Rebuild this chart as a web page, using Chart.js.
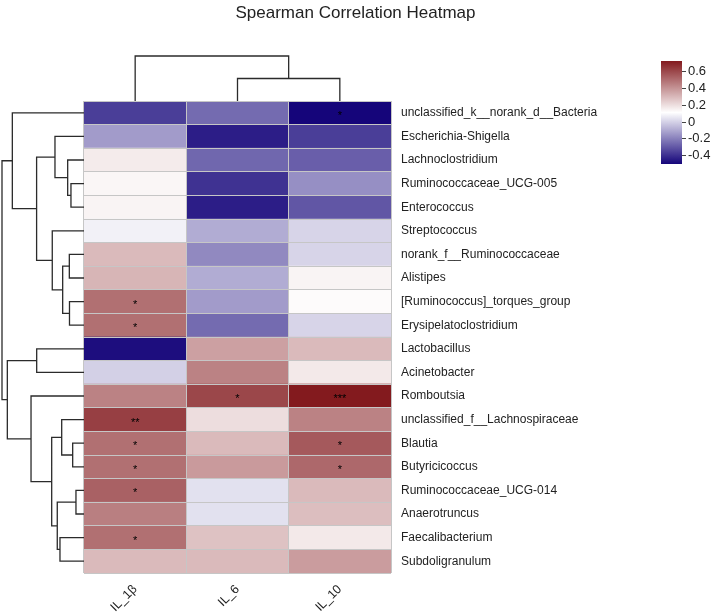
<!DOCTYPE html>
<html>
<head>
<meta charset="utf-8">
<script src="https://cdn.jsdelivr.net/npm/chart.js@4"></script>
<style>
  body { margin: 0; background: #fff; }
  #wrap { position: relative; width: 711px; height: 613px; background: #fff; }
  #wrap canvas { position: absolute; }
</style>
</head>
<body>
<div id="wrap">
  <canvas id="heat" width="711" height="613" style="left:0;top:0"></canvas>
  <canvas id="topTree" width="711" height="102" style="left:0;top:0"></canvas>
  <canvas id="leftTree" width="86" height="613" style="left:0;top:0"></canvas>
  <canvas id="legendBar" width="60" height="124" style="left:661px;top:50px"></canvas>
</div>
<script>
const rowLabels = ['unclassified_k__norank_d__Bacteria', 'Escherichia-Shigella', 'Lachnoclostridium',
  'Ruminococcaceae_UCG-005', 'Enterococcus', 'Streptococcus', 'norank_f__Ruminococcaceae', 'Alistipes',
  '[Ruminococcus]_torques_group', 'Erysipelatoclostridium', 'Lactobacillus', 'Acinetobacter', 'Romboutsia',
  'unclassified_f__Lachnospiraceae', 'Blautia', 'Butyricicoccus', 'Ruminococcaceae_UCG-014', 'Anaerotruncus',
  'Faecalibacterium', 'Subdoligranulum'];
const colLabels = ['IL_1β', 'IL_6', 'IL_10'];

// spearman r, one array per cytokine (row order as above)
const il1b = [-0.36, -0.13, 0.17, 0.14, 0.145, 0.08, 0.30, 0.315, 0.50, 0.50, -0.48, 0.00, 0.45, 0.63, 0.50, 0.50, 0.54, 0.46, 0.50, 0.30];
const il6 = [-0.25, -0.44, -0.26, -0.39, -0.44, -0.09, -0.175, -0.09, -0.13, -0.25, 0.37, 0.45, 0.61, 0.205, 0.30, 0.385, 0.04, 0.04, 0.28, 0.30];
const il10 = [-0.50, -0.36, -0.28, -0.16, -0.30, 0.01, 0.01, 0.145, 0.125, 0.01, 0.30, 0.175, 0.73, 0.45, 0.56, 0.52, 0.30, 0.29, 0.175, 0.38];

// significance marks
const sig1b = ['', '', '', '', '', '', '', '', '*', '*', '', '', '', '**', '*', '*', '*', '', '*', ''];
const sig6 = ['', '', '', '', '', '', '', '', '', '', '', '', '*', '', '', '', '', '', '', ''];
const sig10 = ['*', '', '', '', '', '', '', '', '', '', '', '', '***', '', '*', '*', '', '', '', ''];

// hclust style merges: negative = leaf (1-based), positive = earlier merge; third = height
const rowMerge = [
  [-17, -18, 0.098], [-15, -16, 0.138], [-4, -5, 0.159], [-9, -10, 0.177], [-7, -8, 0.179],
  [-3, 3, 0.199], [5, 4, 0.260], [-14, 2, 0.272], [-19, -20, 0.293], [1, 9, 0.326],
  [-2, 6, 0.354], [-6, 7, 0.387], [8, 10, 0.394], [-11, -12, 0.577], [11, 12, 0.578],
  [-13, 13, 0.646], [-1, 15, 0.874], [14, 16, 0.935], [17, 18, 1.0]
];
const colMerge = [[-2, -3, 0.50], [-1, 1, 1.0]];

const barTicks = [0.6, 0.4, 0.2, 0, -0.2, -0.4];

Chart.defaults.font.family = "'Liberation Sans', Arial, sans-serif";

const columns = [il1b, il6, il10];
const sigs = [sig1b, sig6, sig10];
const allVals = columns.flat();
const vmin = Math.min(...allVals);
const vmax = Math.max(...allVals);
const vmid = (vmin + vmax) / 2;

const lowC = [21, 5, 122], midC = [255, 255, 255], highC = [131, 26, 30];
function mix(a, b, t) {
  return 'rgb(' + a.map((c, i) => Math.round(c + (b[i] - c) * t)).join(',') + ')';
}
function cellColor(v) {
  if (v <= vmid) return mix(lowC, midC, (v - vmin) / (vmid - vmin));
  return mix(midC, highC, (v - vmid) / (vmax - vmid));
}

const starPlugin = {
  id: 'stars',
  afterDatasetsDraw(chart) {
    const ctx = chart.ctx;
    ctx.save();
    ctx.fillStyle = '#000';
    ctx.font = "11px 'Liberation Sans', Arial, sans-serif";
    ctx.textAlign = 'center';
    ctx.textBaseline = 'middle';
    sigs.forEach((col, j) => {
      const meta = chart.getDatasetMeta(j);
      col.forEach((s, i) => {
        if (!s) return;
        const p = meta.data[i].getCenterPoint();
        ctx.fillText(s, p.x, p.y + 3);
      });
    });
    ctx.restore();
  }
};

new Chart(document.getElementById('heat'), {
  type: 'bar',
  data: {
    labels: rowLabels,
    datasets: columns.map((vals, j) => ({
      label: colLabels[j],
      data: vals.map(() => [j, j + 1]),
      backgroundColor: vals.map(cellColor),
      borderWidth: 0,
      grouped: false,
      barPercentage: 1,
      categoryPercentage: 1,
      xAxisID: 'x',
      yAxisID: 'y'
    }))
  },
  options: {
    indexAxis: 'y',
    responsive: false,
    animation: false,
    layout: { padding: 0 },
    plugins: {
      legend: { display: false },
      tooltip: { enabled: false },
      title: {
        display: true,
        text: 'Spearman Correlation Heatmap',
        color: '#222',
        font: { size: 17, weight: 'normal' },
        padding: { top: 3, bottom: 77.6 }
      }
    },
    scales: {
      x: {
        type: 'linear', position: 'bottom', min: 0, max: 3,
        afterBuildTicks: s => { s.ticks = colLabels.map((_, i) => ({ value: i + 0.5 })); },
        ticks: {
          autoSkip: false, minRotation: 45, maxRotation: 45, padding: 9,
          color: '#222', font: { size: 12.5 },
          callback: (v, i) => colLabels[i]
        },
        grid: { color: '#c6c6c6', offset: true, z: 1, drawTicks: false },
        border: { display: false },
        afterFit: s => { s.height = 40; }
      },
      y: {
        type: 'category', position: 'right', offset: true,
        grid: { color: '#c6c6c6', offset: true, z: 1, drawTicks: false },
        border: { display: false },
        ticks: { autoSkip: false, padding: 10, color: '#222', font: { size: 12 } },
        afterFit: s => { s.width = 320; }
      },
      yLeft: {
        type: 'linear', position: 'left',
        grid: { display: false }, border: { display: false }, ticks: { display: false },
        afterFit: s => { s.width = 84; }
      }
    }
  },
  plugins: [starPlugin]
});

// dendrogram segments from merge list, in (height, position) pairs
function treeSegments(merges) {
  const pos = [], hgt = [], pts = [];
  const getP = k => k < 0 ? -k - 0.5 : pos[k - 1];
  const getH = k => k < 0 ? 0 : hgt[k - 1];
  merges.forEach(([a, b, h], i) => {
    const pa = getP(a), pb = getP(b);
    pts.push([getH(a), pa], [h, pa], [h, pb], [getH(b), pb], null);
    pos[i] = (pa + pb) / 2;
    hgt[i] = h;
  });
  return pts;
}

const lineStyle = {
  showLine: true, pointRadius: 0, borderColor: '#2b2b2b', borderWidth: 1.3,
  spanGaps: false, clip: 4
};

new Chart(document.getElementById('leftTree'), {
  type: 'scatter',
  data: {
    datasets: [Object.assign({
      data: treeSegments(rowMerge).map(p => p ? { x: p[0], y: p[1] } : { x: null, y: null })
    }, lineStyle)]
  },
  options: {
    responsive: false, animation: false,
    layout: { padding: { left: 2, right: 2, top: 101, bottom: 40 } },
    plugins: { legend: { display: false }, tooltip: { enabled: false } },
    scales: {
      x: { type: 'linear', display: false, min: 0, max: 1, reverse: true },
      y: { type: 'linear', display: false, min: 0, max: rowLabels.length, reverse: true }
    }
  }
});

new Chart(document.getElementById('topTree'), {
  type: 'scatter',
  data: {
    datasets: [Object.assign({
      data: treeSegments(colMerge).map(p => p ? { x: p[1], y: p[0] } : { x: null, y: null })
    }, lineStyle)]
  },
  options: {
    responsive: false, animation: false,
    layout: { padding: { left: 84, right: 320, top: 56, bottom: 1 } },
    plugins: { legend: { display: false }, tooltip: { enabled: false } },
    scales: {
      x: { type: 'linear', display: false, min: 0, max: colLabels.length },
      y: { type: 'linear', display: false, min: 0, max: 1 }
    }
  }
});

new Chart(document.getElementById('legendBar'), {
  type: 'bar',
  data: {
    labels: [''],
    datasets: [{
      data: [[vmin, vmax]],
      backgroundColor: c => {
        const area = c.chart.chartArea;
        if (!area) return '#fff';
        const g = c.chart.ctx.createLinearGradient(0, area.bottom, 0, area.top);
        g.addColorStop(0, mix(lowC, lowC, 0));
        g.addColorStop(0.5, mix(midC, midC, 0));
        g.addColorStop(1, mix(highC, highC, 0));
        return g;
      },
      borderWidth: 0,
      barPercentage: 1,
      categoryPercentage: 1
    }]
  },
  options: {
    responsive: false, animation: false,
    layout: { padding: { top: 11, bottom: 10, left: 0, right: 0 } },
    plugins: { legend: { display: false }, tooltip: { enabled: false } },
    scales: {
      x: { display: false },
      y: {
        position: 'right', min: vmin, max: vmax,
        afterBuildTicks: s => { s.ticks = barTicks.map(v => ({ value: v })); },
        ticks: { color: '#222', font: { size: 13 }, padding: 2, callback: v => String(v) },
        grid: { drawOnChartArea: false, drawTicks: true, tickLength: 4, color: '#444' },
        border: { display: false },
        afterFit: s => { s.width = 39; }
      }
    }
  }
});
</script>
</body>
</html>
